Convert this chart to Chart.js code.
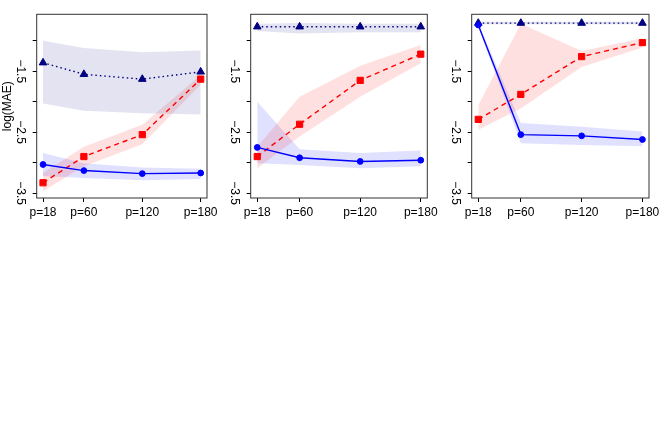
<!DOCTYPE html>
<html>
<head>
<meta charset="utf-8">
<script src="https://cdn.jsdelivr.net/npm/chart.js@4"></script>
<style>
  body { margin: 0; background: #fff; }
  .wrap { position: relative; width: 664px; height: 443px; }
  canvas { position: absolute; top: 0; }
</style>
</head>
<body>
<div class="wrap">
  <canvas id="panel1" width="221" height="225" style="left:0px"></canvas>
  <canvas id="panel2" width="221" height="225" style="left:221px"></canvas>
  <canvas id="panel3" width="222" height="225" style="left:442px"></canvas>
</div>
<script>
// x positions and labels
const pValues = [18, 60, 120, 180];
const pLabels = ["p=18", "p=60", "p=120", "p=180"];

// y ticks (R only labels every other one)
const yTicks = [-3.5, -3, -2.5, -2, -1.5, -1];
const yTickLabels = ["\u22123.5", "", "\u22122.5", "", "\u22121.5", ""];

// one row per panel, columns follow pValues
// navy triangles, dotted
const navyMean = [[-1.36, -1.55, -1.63, -1.51], [-0.77, -0.77, -0.77, -0.77], [-0.71, -0.71, -0.71, -0.71]];
const navyHigh = [[-1.00, -1.12, -1.19, -1.16], [-0.72, -0.71, -0.72, -0.72], [-0.69, -0.69, -0.69, -0.69]];
const navyLow = [[-2.03, -2.15, -2.19, -2.21], [-0.84, -0.88, -0.86, -0.86], [-0.73, -0.73, -0.73, -0.73]];

// red squares, dashed
const redMean = [[-3.33, -2.90, -2.54, -1.63], [-2.90, -2.37, -1.65, -1.22], [-2.29, -1.88, -1.26, -1.03]];
const redHigh = [[-3.17, -2.74, -2.38, -1.56], [-2.74, -1.92, -1.41, -1.07], [-2.06, -0.72, -1.17, -0.96]];
const redLow = [[-3.47, -3.06, -2.70, -1.72], [-3.09, -2.57, -1.92, -1.37], [-2.46, -2.11, -1.43, -1.11]];

// blue circles, solid
const blueMean = [[-3.03, -3.13, -3.18, -3.17], [-2.75, -2.92, -2.98, -2.96], [-0.74, -2.54, -2.56, -2.62]];
const blueHigh = [[-2.84, -3.01, -3.08, -3.10], [-2.00, -2.78, -2.84, -2.80], [-0.71, -2.35, -2.41, -2.49]];
const blueLow = [[-3.22, -3.25, -3.29, -3.27], [-3.01, -3.04, -3.09, -3.06], [-0.77, -2.68, -2.71, -2.73]];

const font = { family: "'Liberation Sans', Arial, sans-serif", size: 12 };

// box round the plot region, like R's box()
const frame = {
  id: "frame",
  afterDatasetsDraw(chart) {
    const { ctx, chartArea: a } = chart;
    ctx.save();
    ctx.strokeStyle = "#333";
    ctx.lineWidth = 1;
    ctx.strokeRect(a.left, a.top, a.right - a.left, a.bottom - a.top);
    ctx.restore();
  },
};

function band(arr, k, color, fill) {
  return {
    data: pValues.map((p, i) => ({ x: p, y: arr[k][i] })),
    borderWidth: 0,
    pointRadius: 0,
    backgroundColor: color,
    fill: fill,
    order: 10,
  };
}

function line(arr, k, color, dash, style, radius, order) {
  return {
    data: pValues.map((p, i) => ({ x: p, y: arr[k][i] })),
    borderColor: color,
    backgroundColor: color,
    borderWidth: 1.4,
    borderDash: dash,
    pointStyle: style,
    pointRadius: radius,
    pointBorderWidth: 1,
    pointBackgroundColor: color,
    pointBorderColor: color,
    tension: 0,
    fill: false,
    order: order,
  };
}

function makePanel(id, k, axisWidth, padRight, showTitle) {
  new Chart(document.getElementById(id), {
    type: "line",
    data: {
      datasets: [
        band(navyHigh, k, "rgba(0,0,128,0.11)", "+1"),
        band(navyLow, k, "rgba(0,0,128,0)", false),
        band(redHigh, k, "rgba(255,0,0,0.12)", "+1"),
        band(redLow, k, "rgba(255,0,0,0)", false),
        band(blueHigh, k, "rgba(0,0,255,0.12)", "+1"),
        band(blueLow, k, "rgba(0,0,255,0)", false),
        line(navyMean, k, "#000080", [1.5, 3], "triangle", 4.4, 3),
        line(redMean, k, "#ff0000", [5, 4], "rect", 4.4, 2),
        line(blueMean, k, "#0000ff", [], "circle", 2.9, 1),
      ],
    },
    options: {
      responsive: false,
      animation: false,
      events: [],
      layout: { padding: { top: 14.3, right: padRight, bottom: 0, left: 0 } },
      plugins: {
        legend: { display: false },
        tooltip: { enabled: false },
        filler: { propagate: false, drawTime: "beforeDatasetsDraw" },
      },
      scales: {
        x: {
          type: "linear",
          min: 11.52,
          max: 186.48,
          afterBuildTicks: (s) => { s.ticks = pValues.map((v) => ({ value: v })); },
          afterFit: (s) => { s.height = 27; s.paddingLeft = 0; s.paddingRight = 0; },
          ticks: {
            callback: (v, i) => pLabels[i],
            autoSkip: false,
            maxRotation: 0,
            minRotation: 0,
            padding: 3,
            color: "#000",
            font: font,
          },
          grid: { drawOnChartArea: false, tickLength: 4, color: "#000", lineWidth: 1 },
          border: { display: false },
        },
        y: {
          type: "linear",
          min: -3.58,
          max: -0.566,
          afterBuildTicks: (s) => { s.ticks = yTicks.map((v) => ({ value: v })); },
          afterFit: (s) => { s.width = axisWidth; s.paddingTop = 0; s.paddingBottom = 0; },
          ticks: {
            callback: (v, i) => yTickLabels[i],
            minRotation: -90,
            maxRotation: -90,
            crossAlign: "center",
            padding: 1,
            color: "#000",
            font: font,
          },
          title: {
            display: showTitle,
            text: "log(MAE)",
            color: "#000",
            font: font,
            padding: 0,
          },
          grid: { drawOnChartArea: false, tickLength: 4, color: "#000", lineWidth: 1 },
          border: { display: false },
        },
      },
    },
    plugins: [frame],
  });
}

makePanel("panel1", 0, 36.7, 14, true);
makePanel("panel2", 1, 29.7, 14.7, false);
makePanel("panel3", 2, 29.7, 15, false);
</script>
</body>
</html>
